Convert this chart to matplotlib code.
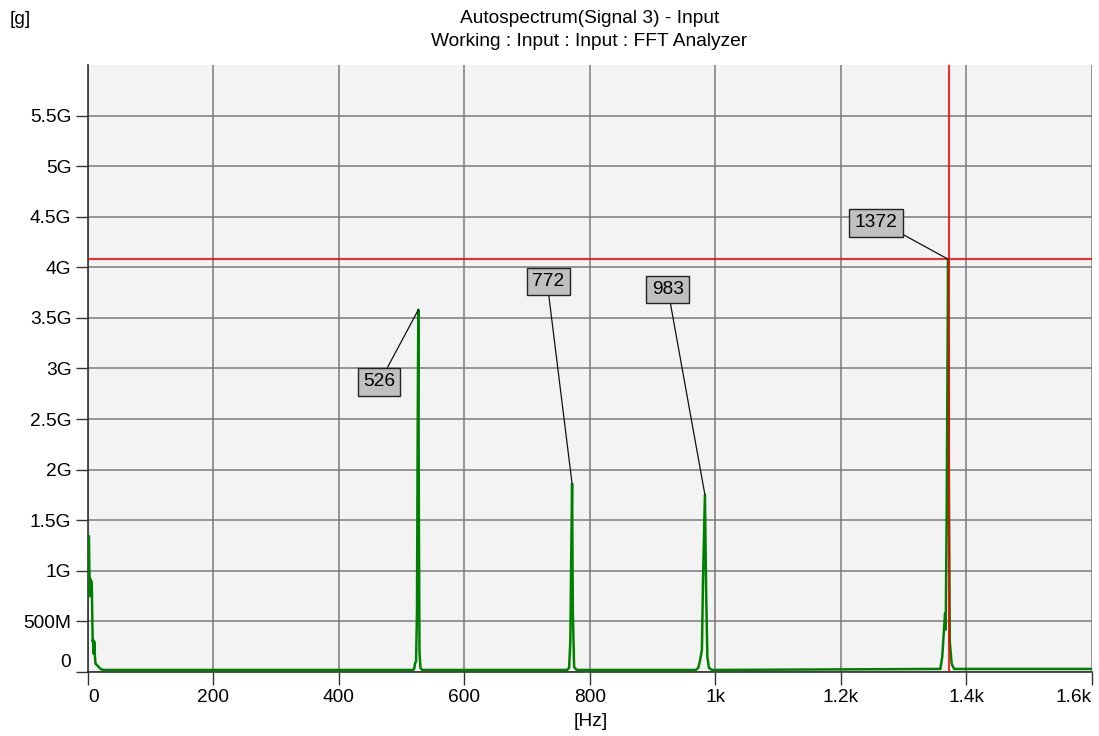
import numpy as np
import matplotlib
matplotlib.use("Agg")
import matplotlib.pyplot as plt
from matplotlib.ticker import FixedLocator, FuncFormatter
from matplotlib.transforms import ScaledTranslation

plt.rcParams['font.family'] = ['Liberation Sans', 'DejaVu Sans']

# spectrum trace (Hz, G units of [g])
freq_hz = [1.5, 2, 2.5, 3, 3.5, 4, 5, 6, 7, 7.5, 8, 9, 10, 11, 12, 14, 17, 20, 24,
           518, 520, 521.5, 523, 524.5, 525.5, 526.6, 527.5, 528.5, 530, 533,
           764, 767, 769, 770.5, 771.8, 773, 775, 779,
           969, 973, 976, 978.8, 980.5, 983.6, 985.5, 987.5, 990, 995,
           1359, 1362, 1364, 1366.5, 1367.5, 1369, 1371.3, 1372.5, 1374, 1377, 1381,
           1600]
amp_g = [1.34, 1.05, 0.93, 0.75, 0.92, 0.80, 0.90, 0.86, 0.45, 0.30, 0.32, 0.18, 0.30, 0.15, 0.08, 0.07, 0.05, 0.03, 0.02,
         0.02, 0.03, 0.09, 0.10, 0.6, 2.2, 3.58, 1.5, 0.2, 0.04, 0.02,
         0.02, 0.04, 0.3, 1.2, 1.86, 0.6, 0.05, 0.02,
         0.02, 0.04, 0.12, 0.22, 0.9, 1.75, 0.8, 0.15, 0.04, 0.02,
         0.03, 0.15, 0.35, 0.58, 0.42, 1.5, 4.08, 2.0, 0.3, 0.08, 0.03,
         0.03]

# peak markers
peak_labels = ["526", "772", "983", "1372"]
peak_freqs = [526.6, 771.8, 983.6, 1371.3]
peak_vals = [3.58, 1.86, 1.75, 4.08]

# cursor
cursor_freq = 1372
cursor_val = 4.08

xticks = [0, 200, 400, 600, 800, 1000, 1200, 1400, 1600]
xticklabels = ["0", "200", "400", "600", "800", "1k", "1.2k", "1.4k", "1.6k"]
yticks = [0, 0.5, 1, 1.5, 2, 2.5, 3, 3.5, 4, 4.5, 5, 5.5]
yticklabels = ["0", "500M", "1G", "1.5G", "2G", "2.5G", "3G", "3.5G", "4G", "4.5G", "5G", "5.5G"]


def main():
    fig = plt.figure(figsize=(10.99, 7.36), dpi=100)
    ax = fig.add_axes([0.0801, 0.0863, 0.9131, 0.8254])
    ax.set_facecolor("#f3f3f3")

    fs = 13.8
    ax.set_xlim(0, 1600)
    ax.set_ylim(-0.005, 6.0)

    ax.xaxis.set_major_locator(FixedLocator(xticks))
    ax.set_xticklabels(xticklabels, fontsize=fs)
    ax.yaxis.set_major_locator(FixedLocator(yticks))
    ax.set_yticklabels(yticklabels, fontsize=fs)
    ax.tick_params(axis="both", direction="out", length=9, width=1,
                   color="#333333", pad=3)
    # end labels are pulled inside, as in the analyzer's plot
    xl = ax.get_xticklabels()
    xl[0].set_horizontalalignment("left")
    xl[-1].set_horizontalalignment("right")
    # the "0" label sits a bit above its tick
    lbl0 = ax.get_yticklabels()[0]
    lbl0.set_transform(lbl0.get_transform() +
                       ScaledTranslation(0, 8 / 72, fig.dpi_scale_trans))

    ax.grid(True, color="#7a7a7a", linewidth=1.1)
    ax.set_axisbelow(True)
    for s in ["top", "right"]:
        ax.spines[s].set_visible(False)
    for s in ["left", "bottom"]:
        ax.spines[s].set_color("#333333")
        ax.spines[s].set_linewidth(1.2)

    # trace
    ax.plot(freq_hz, amp_g, color="#008000", linewidth=1.8, zorder=3)

    # cursor lines
    ax.axvline(cursor_freq, color="#ff0000", linewidth=1.2, zorder=4)
    ax.axhline(cursor_val, color="#ff0000", linewidth=1.2, zorder=4)

    # peak labels: (text x, text y, attach point on box)
    placement = [(-62.7, -0.71, (0.67, 1.0)),
                 (-38.2, 2.0, (0.5, 0.0)),
                 (-59.1, 2.03, (0.55, 0.0)),
                 (-115.3, 0.36, (1.0, 0.0))]
    for lab, f, v, (dx, dy, rp) in zip(peak_labels, peak_freqs, peak_vals, placement):
        ax.annotate(lab, xy=(f, v), xytext=(f + dx, v + dy),
                    fontsize=fs, ha="center", va="center", zorder=5,
                    bbox=dict(boxstyle="square,pad=0.28", fc="#c0c0c0",
                              ec="#222222", lw=1),
                    arrowprops=dict(arrowstyle="-", color="#111111", lw=0.9,
                                    shrinkA=0, shrinkB=0, relpos=rp))

    fig.text(0.5365, 0.975, "Autospectrum(Signal 3) - Input", ha="center",
             va="center", fontsize=fs)
    fig.text(0.5365, 0.944, "Working : Input : Input : FFT Analyzer", ha="center",
             va="center", fontsize=fs)
    fig.text(0.009, 0.973, "[g]", ha="left", va="center", fontsize=fs)
    fig.text(0.5375, 0.020, "[Hz]", ha="center", va="center", fontsize=fs)

    fig.savefig("out.png", dpi=100)


if __name__ == '__main__':
    main()
